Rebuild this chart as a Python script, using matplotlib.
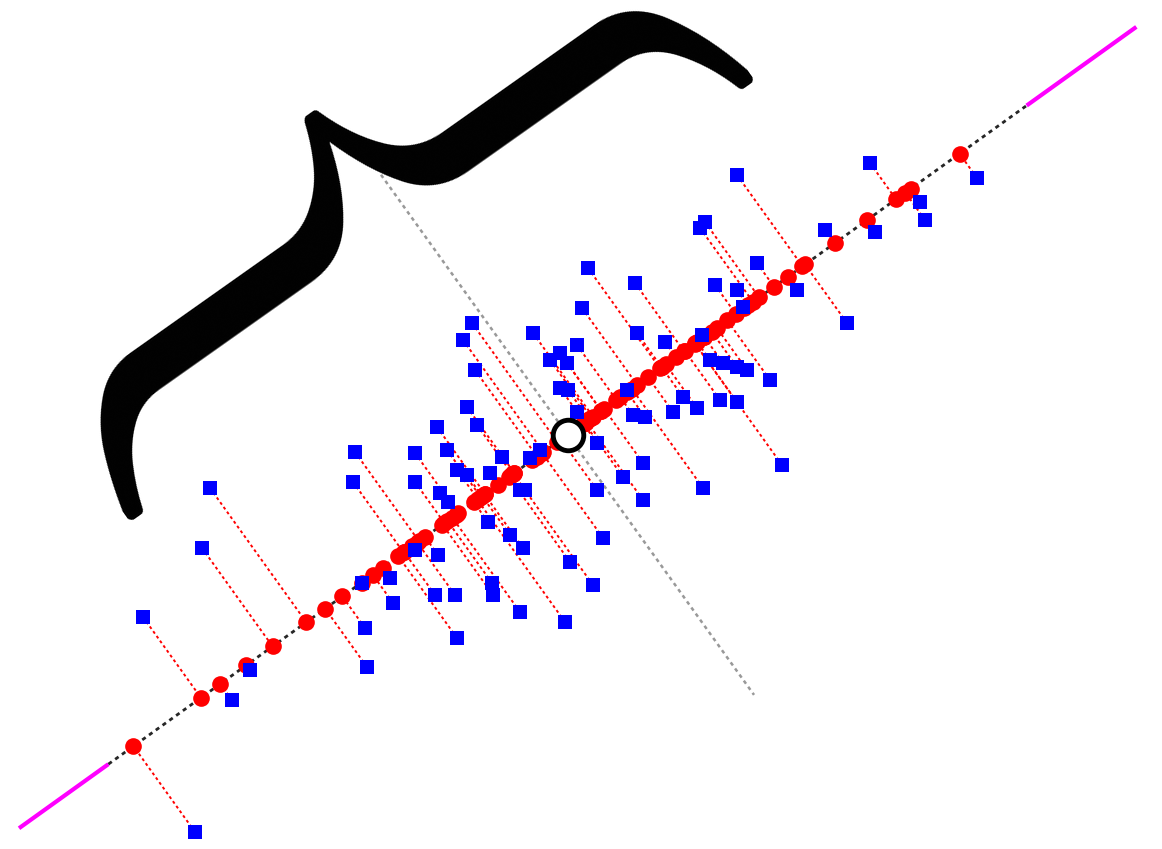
import matplotlib
matplotlib.use("Agg")
import matplotlib.pyplot as plt
from matplotlib.collections import LineCollection
import numpy as np

# Sample points (data units)
x_vals = [1.95, 1.43, 2.10, 2.02, 2.32, 2.50, 3.55, 3.53, 4.15, 4.15, 3.62, 3.90,
          3.93, 3.65, 3.67, 4.15, 4.38, 4.35, 4.55, 4.57, 4.92, 4.93, 5.20, 5.65,
          5.93, 5.70, 6.03, 5.23, 5.10, 4.88, 5.20, 4.48, 4.40, 4.57, 4.67, 4.90,
          5.02, 4.47, 4.37, 4.77, 4.67, 4.75, 4.63, 4.72, 5.33, 5.82, 5.77, 5.60,
          5.50, 5.67, 5.60, 5.68, 5.30, 5.40, 5.97, 5.25, 5.97, 5.77, 6.23, 6.43,
          6.43, 7.03, 7.82, 6.27, 6.33, 6.45, 6.73, 6.97, 6.83, 7.20, 7.37, 7.70,
          7.10, 7.23, 7.37, 7.47, 6.65, 7.02, 6.37, 5.88, 6.35, 7.15, 7.37, 7.43,
          7.57, 7.97, 7.00, 7.05, 7.37, 8.25, 8.70, 8.75, 9.20, 9.25, 9.77, 8.47]
y_vals = [0.17, 2.32, 3.61, 3.01, 1.49, 1.79, 3.97, 3.67, 3.96, 3.67, 2.66, 2.71,
          2.46, 2.21, 1.82, 2.99, 2.94, 2.54, 2.54, 2.11, 2.66, 2.54, 2.37, 2.27,
          2.64, 2.87, 3.11, 3.01, 3.14, 3.27, 3.59, 3.47, 3.56, 3.79, 3.74, 3.76,
          3.92, 3.99, 4.22, 4.24, 4.42, 4.79, 5.09, 5.26, 5.16, 5.41, 5.04, 4.96,
          4.89, 4.86, 4.61, 4.59, 3.91, 3.99, 3.59, 3.59, 4.06, 4.37, 3.72, 3.86,
          3.49, 3.61, 3.84, 4.59, 4.34, 4.32, 4.37, 4.41, 4.52, 4.49, 4.47, 4.69,
          4.89, 4.86, 4.82, 4.79, 5.07, 5.14, 5.16, 5.81, 5.66, 5.64, 5.59, 5.42,
          5.86, 5.59, 6.21, 6.27, 6.74, 6.19, 6.86, 6.17, 6.47, 6.29, 6.71, 5.26]

pc1_half = 5.65      # black axis segment half-length
pc1_ext_lo = 6.75    # magenta extension (lower end)
pc1_ext_hi = 7.0     # magenta extension (upper end)
pc2_half = 3.2       # grey second-axis half-length

P = np.column_stack([x_vals, y_vals])
c = P.mean(axis=0)
evals, evecs = np.linalg.eigh(np.cov(P.T))
v1 = evecs[:, np.argmax(evals)]
if v1[0] < 0:
    v1 = -v1
v2 = evecs[:, np.argmin(evals)]
t = (P - c) @ v1
proj = c + np.outer(t, v1)

fig = plt.figure(figsize=(11.62, 8.49), dpi=100)
ax = fig.add_axes([0, 0, 1, 1])
ax.set_xlim(0, 11.62)
ax.set_ylim(0, 8.49)
ax.axis("off")

# magenta extensions
for s, ext in ((-1, pc1_ext_lo), (1, pc1_ext_hi)):
    a = c + s * pc1_half * v1
    b = c + s * ext * v1
    ax.plot([a[0], b[0]], [a[1], b[1]], color="#ff00ff", lw=3, solid_capstyle="butt", zorder=1)
# principal axis
a = c - pc1_half * v1
b = c + pc1_half * v1
ax.plot([a[0], b[0]], [a[1], b[1]], color="0.15", lw=2, ls=(0, (1.5, 1.5)), zorder=1)
# second axis
a = c - pc2_half * v2
b = c + pc2_half * v2
ax.plot([a[0], b[0]], [a[1], b[1]], color="0.6", lw=1.8, ls=(0, (1.5, 1.5)), zorder=1)

segs = np.stack([P, proj], axis=1)
ax.add_collection(LineCollection(segs, colors="red", linewidths=1.4,
                                 linestyles=[(0, (1.5, 1.5))], zorder=2))
ax.plot(proj[:, 0], proj[:, 1], "o", color="red", ms=12, mew=0, zorder=3)
ax.plot(P[:, 0], P[:, 1], "s", color="blue", ms=10.5, mew=0, zorder=4)
ax.plot([c[0]], [c[1]], "o", mfc="white", mec="black", ms=22, mew=3.5, zorder=5)

ang = np.degrees(np.arctan2(v1[1], v1[0]))
ax.text(1.89, 8.49 - 3.745, "\xa9", family="cmex10", fontsize=460, rotation=ang - 90.4,
        ha="center", va="center", color="black", zorder=6)

fig.savefig("out.png", dpi=100)
